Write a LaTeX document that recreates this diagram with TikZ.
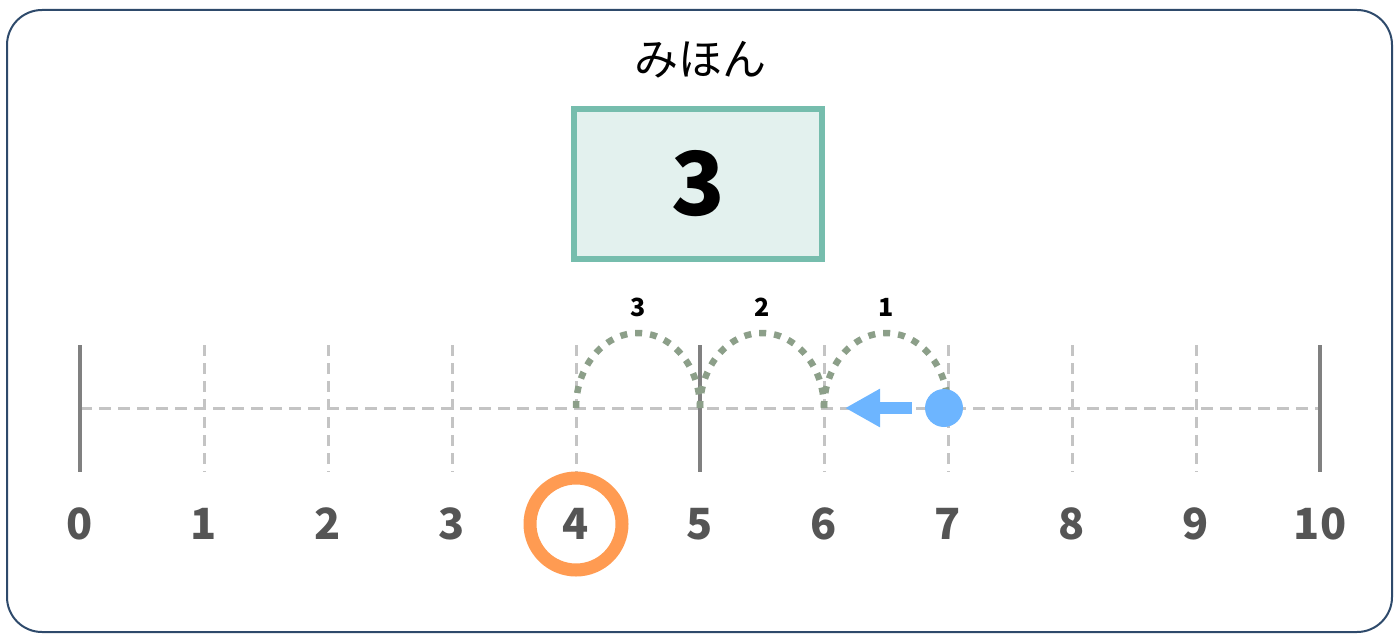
\documentclass[tikz,border=0pt]{standalone}
\usepackage{fontspec}
\setmainfont{Noto Sans CJK JP}
\usetikzlibrary{arrows.meta}
\definecolor{framec}{HTML}{2E4A6B}
\definecolor{tickdark}{HTML}{808080}
\definecolor{ticklight}{HTML}{C4C4C4}
\definecolor{labelc}{HTML}{555555}
\definecolor{arcc}{HTML}{8C9F89}
\definecolor{orangec}{HTML}{FF9B52}
\definecolor{tealc}{HTML}{76BDAD}
\definecolor{tealfill}{HTML}{E3F1EE}
\definecolor{bluec}{HTML}{6DB5FF}
\tikzset{
  titlestyle/.style={font=\fontsize{44}{50}\selectfont, text=black},
  boxstyle/.style={draw=tealc, fill=tealfill, line width=6pt, minimum width=248pt, minimum height=150pt, font=\fontsize{88}{100}\selectfont\bfseries, text=black, inner sep=0pt},
  axisline/.style={draw=ticklight, line width=3pt, dash pattern=on 12pt off 7pt},
  majortick/.style={draw=tickdark, line width=3.5pt},
  minortick/.style={draw=ticklight, line width=3pt, dash pattern=on 11pt off 7pt},
  numlabel/.style={font=\fontsize{43}{50}\selectfont\bfseries, text=labelc, inner sep=0pt},
  ringstyle/.style={draw=orangec, line width=13pt, circle, minimum size=92pt, inner sep=0pt},
  hoparc/.style={draw=arcc, line width=6.5pt, dash pattern=on 7pt off 8pt},
  hoplabel/.style={font=\fontsize{25}{28}\selectfont\bfseries, text=black, inner sep=0pt},
  dotstyle/.style={circle, fill=bluec, minimum size=38pt, inner sep=0pt},
  movearrow/.style={draw=bluec, line width=12pt, -{Triangle[length=35pt,width=36pt]}, shorten <=13pt},
}
\begin{document}
\begin{tikzpicture}[x=1pt,y=-1pt]
\useasboundingbox (0,0) rectangle (1396,634);
\draw[framec, line width=2pt, rounded corners=35pt] (7,10) rectangle (1392,632);
\node[titlestyle] (title) at (700,60) {みほん};
\node[boxstyle] (box) at (698,184) {3};
\foreach \i in {0,...,10} {
  \coordinate (t\i) at ({80+124*\i},408);
  \coordinate (top\i) at ({80+124*\i},345);
  \coordinate (bot\i) at ({80+124*\i},472);
}
\draw[axisline] (t0) -- (t10);
\foreach \i in {1,2,3,4,6,7,8,9} \draw[minortick] (top\i) -- (bot\i);
\foreach \i in {0,5,10} \draw[majortick] (top\i) -- (bot\i);
\foreach \i in {0,...,10} \node[numlabel] (l\i) at ({80+124*\i},524) {\i};
\node[ringstyle] (ring) at (l4) {};
\draw[hoparc] (t6) arc[start angle=180, end angle=0, x radius=62pt, y radius=75pt];
\draw[hoparc] (t5) arc[start angle=180, end angle=0, x radius=62pt, y radius=75pt];
\draw[hoparc] (t4) arc[start angle=180, end angle=0, x radius=62pt, y radius=75pt];
\node[hoplabel] (h1) at (886,307) {1};
\node[hoplabel] (h2) at (762,307) {2};
\node[hoplabel] (h3) at (638,307) {3};
\node[dotstyle] (dot) at (944,408) {};
\coordinate (tip) at (845,408);
\draw[movearrow] (dot.west) -- (tip);
\end{tikzpicture}
\end{document}
